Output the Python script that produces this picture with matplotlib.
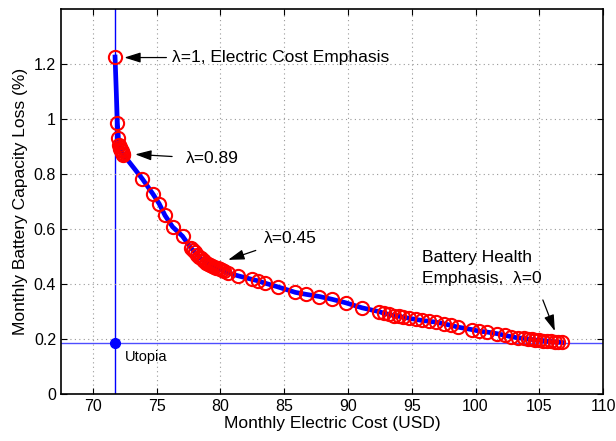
import matplotlib
matplotlib.use("Agg")
import matplotlib.pyplot as plt

cost = [71.74, 71.92, 72.0, 72.05, 72.1, 72.15, 72.2, 72.25, 72.3, 72.35, 72.4,
        73.87, 74.73, 75.2, 75.65, 76.25, 77.03, 77.66, 77.85, 78.0, 78.15, 78.3,
        78.45, 78.6, 78.75, 78.9, 79.05, 79.2, 79.35, 79.5, 79.65, 79.8, 79.95,
        80.1, 80.3, 80.6, 81.4, 82.5, 82.94, 83.46, 84.5, 85.88, 86.7, 87.76,
        88.75, 89.84, 91.1, 92.44, 92.84, 93.2, 93.6, 94.0, 94.3, 94.8, 95.3,
        95.8, 96.35, 96.87, 97.5, 98.1, 98.6, 99.7, 100.3, 100.9, 101.7, 102.3,
        102.8, 103.3, 103.8, 104.1, 104.4, 104.7, 105.0, 105.3, 105.6, 105.9,
        106.2, 106.5, 106.77]
loss = [1.225, 0.987, 0.93, 0.905, 0.898, 0.892, 0.887, 0.882, 0.878, 0.874, 0.87,
        0.783, 0.726, 0.692, 0.65, 0.608, 0.574, 0.533, 0.523, 0.515, 0.507, 0.5,
        0.494, 0.488, 0.483, 0.478, 0.474, 0.47, 0.466, 0.463, 0.46, 0.457, 0.454,
        0.451, 0.447, 0.441, 0.43, 0.417, 0.412, 0.404, 0.39, 0.37, 0.363, 0.355,
        0.345, 0.332, 0.314, 0.3, 0.294, 0.29, 0.286, 0.283, 0.28, 0.276, 0.272,
        0.268, 0.265, 0.262, 0.256, 0.25, 0.244, 0.235, 0.229, 0.226, 0.22, 0.214,
        0.209, 0.205, 0.203, 0.201, 0.199, 0.197, 0.196, 0.195, 0.193, 0.192,
        0.19, 0.189, 0.188]
utopia_x = 71.72
utopia_y = 0.186

xticks = [70, 75, 80, 85, 90, 95, 100, 105, 110]
yticks = [0, 0.2, 0.4, 0.6, 0.8, 1.0, 1.2]
yticklabels = ["0", "0.2", "0.4", "0.6", "0.8", "1", "1.2"]

plt.rcParams['font.family'] = ['Liberation Sans', 'DejaVu Sans']

fig = plt.figure(figsize=(6.16, 4.41), dpi=100)
ax = fig.add_axes([0.099, 0.106, 0.880, 0.874])

ax.axvline(utopia_x, color='#0000ff', lw=1.0, zorder=1)
ax.axhline(utopia_y, color='#4d4dff', lw=1.0, zorder=1)
ax.plot([utopia_x], [utopia_y], 'o', color='#0000ff', ms=7, zorder=4)

ax.plot(cost, loss, '-', color='#0000ff', lw=3.4, zorder=2)
ax.plot(cost, loss, 'o', mfc='none', mec='#ff0000', ms=9.5, mew=1.5, zorder=3)

ax.set_xlim(67.5, 110)
ax.set_ylim(0, 1.4)
ax.set_xticks(xticks)
ax.set_yticks(yticks)
ax.set_yticklabels(yticklabels)
ax.grid(True, linestyle=(0, (1, 3)), color='#999999', lw=0.8)
ax.tick_params(direction='in', top=True, right=True, labelsize=11.5, length=4)
for s in ax.spines.values():
    s.set_linewidth(1.2)
ax.set_xlabel("Monthly Electric Cost (USD)", fontsize=12.5, labelpad=1)
ax.set_ylabel("Monthly Battery Capacity Loss (%)", fontsize=12.5, labelpad=4)

arrow = dict(arrowstyle='-|>,head_length=0.7,head_width=0.22', color='black',
             lw=0.9, mutation_scale=14)
ax.annotate("λ=1, Electric Cost Emphasis", xy=(72.25, 1.223), xytext=(76.2, 1.223),
            fontsize=12.5, va='center', ha='left', arrowprops=arrow)
ax.annotate("λ=0.89", xy=(73.1, 0.872), xytext=(77.3, 0.855),
            fontsize=12.5, va='center', ha='left', arrowprops=dict(arrow, shrinkA=8))
ax.annotate("λ=0.45", xy=(80.4, 0.485), xytext=(83.4, 0.565),
            fontsize=12.5, va='center', ha='left', arrowprops=dict(arrow, shrinkA=4))
ax.annotate("", xy=(106.3, 0.22), xytext=(105.2, 0.352), arrowprops=arrow)
ax.text(95.8, 0.497, "Battery Health", fontsize=12.5, va='center', ha='left')
ax.text(95.8, 0.42, "Emphasis,  λ=0", fontsize=12.5, va='center', ha='left')
ax.text(72.5, 0.136, "Utopia", fontsize=10.5, va='center', ha='left')

fig.savefig("out.png", dpi=100)
